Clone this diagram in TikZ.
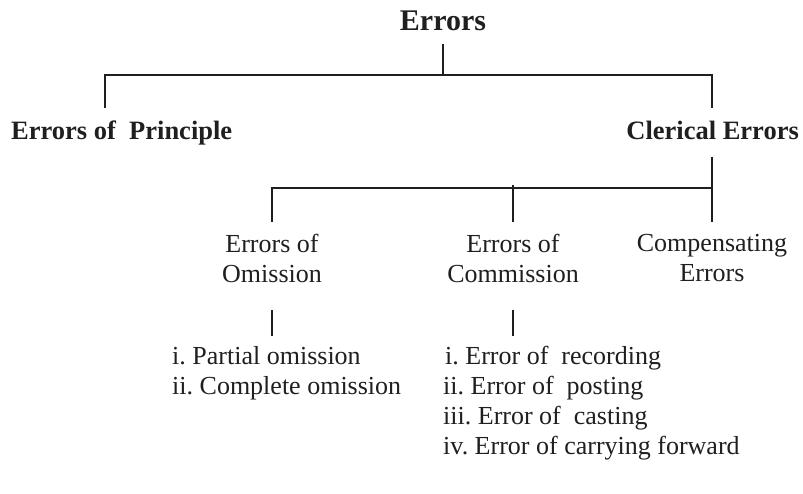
\documentclass[tikz,border=0pt]{standalone}
\usepackage{fontspec}
\setmainfont{Liberation Serif}
\frenchspacing
\begin{document}
\begin{tikzpicture}[x=1pt,y=-1pt,
  ink/.style={draw=black!88, line width=1.8pt},
  boldtext/.style={font=\fontsize{26.5}{30}\selectfont\bfseries, text=black!88, inner sep=0pt},
  midtext/.style={font=\fontsize{26}{30}\selectfont, text=black!88, align=center, inner sep=0pt},
  listtext/.style={font=\fontsize{26}{30}\selectfont, text=black!88, inner sep=0pt, anchor=base west}]
\useasboundingbox (0,0) rectangle (803,494);
% nodes
\node[font=\fontsize{30}{34}\selectfont\bfseries, text=black!88, inner sep=0pt, anchor=base] (root) at (443,31) {Errors};
\node[boldtext, anchor=base west] (ep) at (11,140) {Errors of\ \ Principle};
\node[boldtext, anchor=base east] (ce) at (799,140) {Clerical Errors};
\node[midtext, anchor=north] (om) at (272,234) {Errors of\\Omission};
\node[midtext, anchor=north] (com) at (513,234) {Errors of\\Commission};
\node[midtext, anchor=north] (cmp) at (712,234) {Compensating\\Errors};
\node[listtext] (o1) at (172,364) {i. Partial omission};
\node[listtext] (o2) at (172,394) {ii. Complete omission};
\node[listtext] (c1) at (445,364) {i. Error of\ \ recording};
\node[listtext] (c2) at (443,394) {ii. Error of\ \ posting};
\node[listtext] (c3) at (443,424) {iii. Error of\ \ casting};
\node[listtext] (c4) at (443,454) {iv. Error of carrying forward};
% junction coordinates
\coordinate (r0) at (443,44);
\coordinate (h1) at (443,75);
\coordinate (h1l) at (105,75);
\coordinate (h1r) at (712,75);
\coordinate (epT) at (105,108);
\coordinate (ceT) at (712,108);
\coordinate (ceB) at (712,157);
\coordinate (h2) at (712,188);
\coordinate (h2l) at (272,188);
\coordinate (h2m) at (513,185);
\coordinate (omT) at (272,222);
\coordinate (comT) at (513,222);
\coordinate (cmpT) at (712,222);
\coordinate (omB) at (272,310);
\coordinate (omL) at (272,336);
\coordinate (comB) at (513,310);
\coordinate (comL) at (513,336);
% connectors
\draw[ink] (r0) -- (h1);
\draw[ink] (epT) -- (h1l) -- (h1r) -- (ceT);
\draw[ink] (ceB) -- (cmpT);
\draw[ink] (omT) -- (h2l) -- (h2);
\draw[ink] (h2m) -- (comT);
\draw[ink] (omB) -- (omL);
\draw[ink] (comB) -- (comL);
\end{tikzpicture}
\end{document}
